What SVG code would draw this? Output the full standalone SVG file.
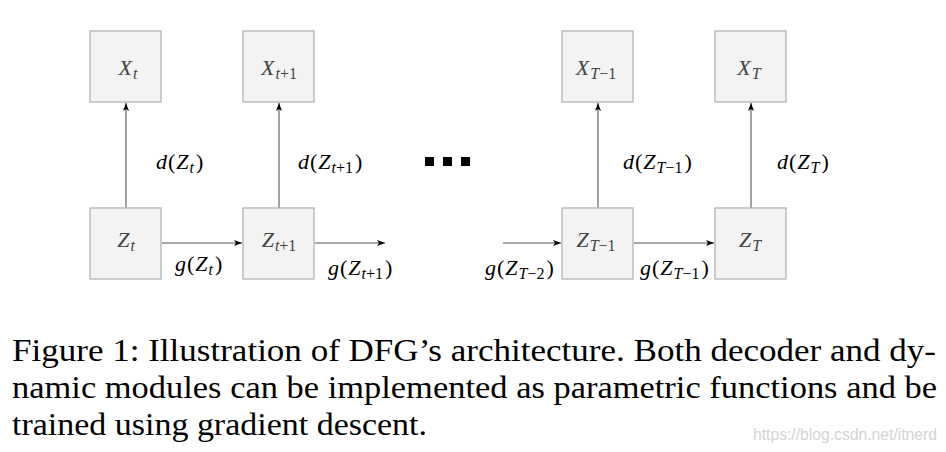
<svg xmlns="http://www.w3.org/2000/svg" width="946" height="452" viewBox="0 0 946 452">
<defs>
<style>
.box{fill:#f3f3f3;stroke:#b4b4b4;stroke-width:1.3}
.lbl{font-family:"Liberation Serif","Times New Roman",serif;font-size:22px;font-style:italic;fill:#444}
.math{font-family:"Liberation Serif","Times New Roman",serif;font-size:22px;font-style:italic;fill:#000}
.up{font-style:normal}
.sub{font-size:16px}
.edge{stroke:#555;stroke-width:1.1;fill:none;marker-end:url(#ah)}
.cap{font-family:"Liberation Serif","Times New Roman",serif;font-size:32px;fill:#000}
.wm{font-family:"Liberation Sans",Arial,sans-serif;font-size:16px;fill:#d4d4d4}
</style>
<marker id="ah" viewBox="0 0 8 6" refX="8" refY="3" markerWidth="8" markerHeight="6" markerUnits="userSpaceOnUse" orient="auto">
<path d="M0,0 L8,3 L0,6 L2,3 Z" fill="#000"/>
</marker>
</defs>
<rect width="946" height="452" fill="#fff"/>

<g id="connectors">
<line class="edge" x1="126" y1="208" x2="126" y2="103"/>
<line class="edge" x1="279" y1="208" x2="279" y2="103"/>
<line class="edge" x1="598" y1="208" x2="598" y2="103"/>
<line class="edge" x1="751" y1="208" x2="751" y2="103"/>
<line class="edge" x1="162" y1="243" x2="242" y2="243"/>
<line class="edge" x1="315" y1="243" x2="385" y2="243"/>
<line class="edge" x1="503" y1="243" x2="561" y2="243"/>
<line class="edge" x1="634" y1="243" x2="714" y2="243"/>
<text class="math" x="156" y="169">d<tspan class="up" dx="1">(</tspan><tspan dx="1">Z</tspan><tspan class="sub" dx="1" dy="4">t</tspan><tspan class="up" dx="2" dy="-4">)</tspan></text>
<text class="math" x="298" y="169">d<tspan class="up" dx="1">(</tspan><tspan dx="1">Z</tspan><tspan class="sub" dx="1" dy="4">t</tspan><tspan class="sub up">+1</tspan><tspan class="up" dx="2" dy="-4">)</tspan></text>
<text class="math" x="623" y="169">d<tspan class="up" dx="1">(</tspan><tspan dx="1">Z</tspan><tspan class="sub" dx="1" dy="4">T</tspan><tspan class="sub up">−1</tspan><tspan class="up" dx="2" dy="-4">)</tspan></text>
<text class="math" x="777" y="169">d<tspan class="up" dx="1">(</tspan><tspan dx="1">Z</tspan><tspan class="sub" dx="1" dy="4">T</tspan><tspan class="up" dx="2" dy="-4">)</tspan></text>
<text class="math" x="175" y="271">g<tspan class="up" dx="1">(</tspan><tspan dx="1">Z</tspan><tspan class="sub" dx="1" dy="4">t</tspan><tspan class="up" dx="2" dy="-4">)</tspan></text>
<text class="math" x="328" y="275">g<tspan class="up" dx="1">(</tspan><tspan dx="1">Z</tspan><tspan class="sub" dx="1" dy="4">t</tspan><tspan class="sub up">+1</tspan><tspan class="up" dx="2" dy="-4">)</tspan></text>
<text class="math" x="485" y="275">g<tspan class="up" dx="1">(</tspan><tspan dx="1">Z</tspan><tspan class="sub" dx="1" dy="4">T</tspan><tspan class="sub up">−2</tspan><tspan class="up" dx="2" dy="-4">)</tspan></text>
<text class="math" x="640" y="275">g<tspan class="up" dx="1">(</tspan><tspan dx="1">Z</tspan><tspan class="sub" dx="1" dy="4">T</tspan><tspan class="sub up">−1</tspan><tspan class="up" dx="2" dy="-4">)</tspan></text>
</g>

<g id="X_t"><rect class="box" x="90" y="31" width="71" height="71"/><text class="lbl" x="128" y="75" text-anchor="middle">X<tspan class="sub" dx="1" dy="4">t</tspan></text></g>
<g id="X_t1"><rect class="box" x="243" y="31" width="71" height="71"/><text class="lbl" x="279" y="75" text-anchor="middle">X<tspan class="sub" dx="1" dy="4">t</tspan><tspan class="sub up">+1</tspan></text></g>
<g id="X_T1"><rect class="box" x="562" y="31" width="71" height="71"/><text class="lbl" x="596" y="75" text-anchor="middle">X<tspan class="sub" dx="1" dy="4">T</tspan><tspan class="sub up">−1</tspan></text></g>
<g id="X_T"><rect class="box" x="715" y="31" width="71" height="71"/><text class="lbl" x="749" y="75" text-anchor="middle">X<tspan class="sub" dx="1" dy="4">T</tspan></text></g>
<g id="Z_t"><rect class="box" x="90" y="208" width="71" height="71"/><text class="lbl" x="126" y="247" text-anchor="middle">Z<tspan class="sub" dx="1" dy="4">t</tspan></text></g>
<g id="Z_t1"><rect class="box" x="243" y="208" width="71" height="71"/><text class="lbl" x="279" y="247" text-anchor="middle">Z<tspan class="sub" dx="1" dy="4">t</tspan><tspan class="sub up">+1</tspan></text></g>
<g id="Z_T1"><rect class="box" x="562" y="208" width="71" height="71"/><text class="lbl" x="596" y="247" text-anchor="middle">Z<tspan class="sub" dx="1" dy="4">T</tspan><tspan class="sub up">−1</tspan></text></g>
<g id="Z_T"><rect class="box" x="715" y="208" width="71" height="71"/><text class="lbl" x="750" y="247" text-anchor="middle">Z<tspan class="sub" dx="1" dy="4">T</tspan></text></g>

<g id="ellipsis" fill="#000">
<rect x="425" y="157" width="9" height="9"/>
<rect x="443" y="157" width="9" height="9"/>
<rect x="461" y="157" width="9" height="9"/>
</g>

<g id="caption">
<text class="cap" x="12" y="361" textLength="924" lengthAdjust="spacingAndGlyphs">Figure 1: Illustration of DFG’s architecture.  Both decoder and dy-</text>
<text class="cap" x="12" y="398" textLength="925" lengthAdjust="spacingAndGlyphs">namic modules can be implemented as parametric functions and be</text>
<text class="cap" x="12" y="435" textLength="415" lengthAdjust="spacingAndGlyphs">trained using gradient descent.</text>
<text class="wm" x="753" y="440" textLength="184" lengthAdjust="spacingAndGlyphs">https://blog.csdn.net/itnerd</text>
</g>
</svg>
